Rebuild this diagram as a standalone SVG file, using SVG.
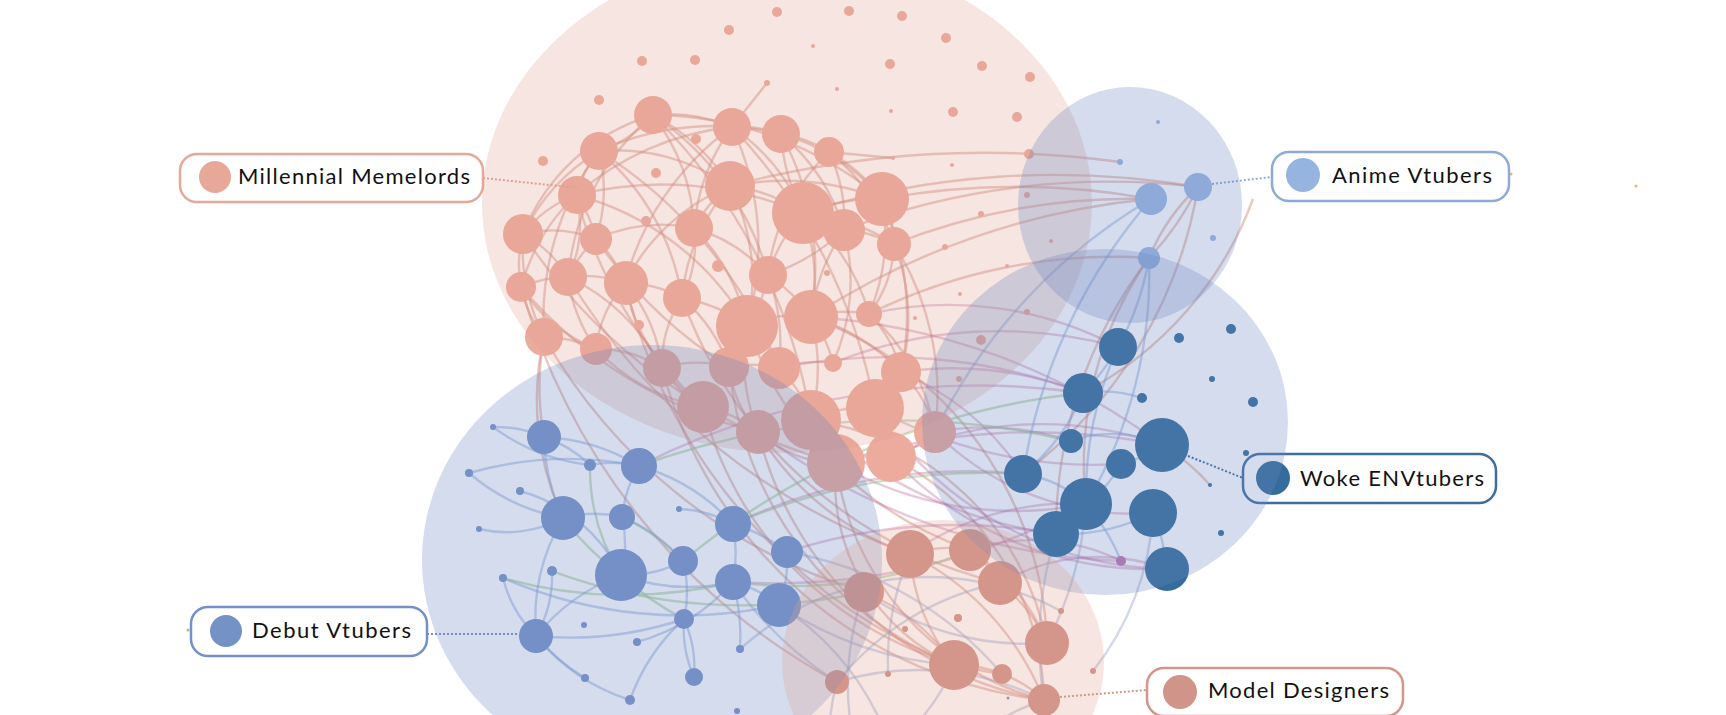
<svg xmlns="http://www.w3.org/2000/svg" width="1726" height="715" viewBox="0 0 1726 715">
<style>
.e path{fill:none;stroke-width:2.4}
.ep{stroke:#cf8478;stroke-opacity:.45}
.eb{stroke:#7f9fd6;stroke-opacity:.45}
.eu{stroke:#b9659a;stroke-opacity:.35}
.eg{stroke:#9cc78c;stroke-opacity:.55}
.es{stroke:#8fa3cc;stroke-opacity:.42}
.np{fill:#ecab9c}
.nm{fill:#d19388}
.nd{fill:#7794c8}
.nw{fill:#346d9b}
.na{fill:#9bb9e2}
.nu{fill:#bd78b0}
.hp{fill:#dc9f90;fill-opacity:.27}
.hb{fill:#6f86c0;fill-opacity:.29}
.box{fill:#fff;stroke-width:2.5}
.lbl{font-family:Lato,"Liberation Sans",sans-serif;font-size:22px;fill:#111}
.dot{fill:none;stroke-width:2;stroke-dasharray:2 2}
</style>
<rect width="1726" height="715" fill="#fff"/>
<g id="connectors" class="e">
<g class="ep">
<path d="M653 115 A200 200 0 0 0 523 234"/><path d="M653 115 A120 120 0 0 1 599 151"/><path d="M653 115 A160 160 0 0 1 732 127"/><path d="M653 115 A200 200 0 0 1 730 186"/><path d="M653 115 A240 240 0 0 0 568 277"/><path d="M653 115 A200 200 0 0 1 694 228"/><path d="M653 115 A280 280 0 0 1 768 275"/><path d="M653 115 A360 360 0 0 1 882 199"/>
<path d="M732 127 A120 120 0 0 1 781 134"/><path d="M732 127 A200 200 0 0 1 803 213"/><path d="M732 127 A280 280 0 0 0 576 195"/><path d="M732 127 A280 280 0 0 0 625 283"/><path d="M732 127 A280 280 0 0 1 747 325"/><path d="M732 127 A200 200 0 0 0 694 228"/><path d="M732 127 L767 83"/>
<path d="M781 134 A120 120 0 0 1 829 152"/><path d="M781 134 A200 200 0 0 1 882 199"/><path d="M781 134 A200 200 0 0 0 803 213"/><path d="M781 134 A200 200 0 0 1 844 230"/><path d="M781 134 A280 280 0 0 1 811 317"/><path d="M781 134 A280 280 0 0 0 599 151"/>
<path d="M829 152 A160 160 0 0 1 882 199"/><path d="M829 152 A200 200 0 0 1 894 244"/><path d="M829 152 A200 200 0 0 0 768 275"/><path d="M829 152 A160 160 0 0 1 844 230"/><path d="M829 152 L893 158"/>
<path d="M599 151 A120 120 0 0 0 576 195"/><path d="M599 151 A200 200 0 0 0 523 234"/><path d="M599 151 A160 160 0 0 1 596 239"/><path d="M599 151 A200 200 0 0 1 730 186"/><path d="M599 151 A240 240 0 0 1 682 298"/><path d="M599 151 A280 280 0 0 0 544 337"/>
<path d="M576 195 A120 120 0 0 0 523 234"/><path d="M576 195 A120 120 0 0 1 568 277"/><path d="M576 195 A120 120 0 0 1 596 239"/><path d="M576 195 A360 360 0 0 1 803 213"/><path d="M576 195 A200 200 0 0 0 521 287"/><path d="M576 195 A280 280 0 0 1 747 325"/>
<path d="M730 186 A160 160 0 0 1 803 213"/><path d="M730 186 A120 120 0 0 0 694 228"/><path d="M730 186 A200 200 0 0 0 625 283"/><path d="M730 186 A200 200 0 0 1 747 325"/><path d="M730 186 A280 280 0 0 1 882 199"/><path d="M730 186 A200 200 0 0 0 682 298"/>
<path d="M803 213 A120 120 0 0 1 844 230"/><path d="M803 213 A200 200 0 0 1 882 199"/><path d="M803 213 A160 160 0 0 0 768 275"/><path d="M803 213 A200 200 0 0 1 811 317"/><path d="M803 213 A200 200 0 0 1 869 314"/><path d="M803 213 A200 200 0 0 1 894 244"/>
<path d="M882 199 A120 120 0 0 1 894 244"/><path d="M882 199 A200 200 0 0 1 869 314"/><path d="M882 199 A280 280 0 0 1 901 372"/>
<path d="M844 230 A120 120 0 0 1 894 244"/><path d="M844 230 A200 200 0 0 0 811 317"/><path d="M844 230 A200 200 0 0 1 768 275"/><path d="M844 230 A200 200 0 0 1 833 363"/>
<path d="M894 244 A120 120 0 0 1 869 314"/><path d="M894 244 A200 200 0 0 1 901 372"/><path d="M894 244 A280 280 0 0 1 935 432"/>
<path d="M523 234 A120 120 0 0 0 521 287"/><path d="M523 234 A120 120 0 0 1 568 277"/><path d="M523 234 A200 200 0 0 0 544 337"/><path d="M523 234 A120 120 0 0 1 596 239"/>
<path d="M596 239 A120 120 0 0 0 568 277"/><path d="M596 239 A120 120 0 0 1 625 283"/><path d="M596 239 A160 160 0 0 1 694 228"/>
<path d="M694 228 A120 120 0 0 1 682 298"/><path d="M694 228 A160 160 0 0 1 768 275"/><path d="M694 228 A200 200 0 0 1 747 325"/>
<path d="M521 287 A120 120 0 0 1 568 277"/><path d="M521 287 A120 120 0 0 0 544 337"/><path d="M521 287 A160 160 0 0 0 596 349"/>
<path d="M568 277 A120 120 0 0 1 625 283"/><path d="M568 277 A160 160 0 0 0 596 349"/><path d="M568 277 A200 200 0 0 1 662 368"/>
<path d="M625 283 A120 120 0 0 1 682 298"/><path d="M625 283 A120 120 0 0 0 596 349"/><path d="M625 283 A160 160 0 0 1 662 368"/><path d="M625 283 A200 200 0 0 0 703 407"/>
<path d="M682 298 A160 160 0 0 1 747 325"/><path d="M682 298 A160 160 0 0 1 729 367"/><path d="M682 298 A120 120 0 0 0 662 368"/>
<path d="M768 275 A120 120 0 0 1 747 325"/><path d="M768 275 A160 160 0 0 1 811 317"/><path d="M768 275 A200 200 0 0 1 779 368"/>
<path d="M544 337 A120 120 0 0 1 596 349"/><path d="M544 337 A280 280 0 0 0 544 437"/><path d="M544 337 A280 280 0 0 0 563 518"/>
<path d="M596 349 A120 120 0 0 1 662 368"/><path d="M596 349 A200 200 0 0 0 703 407"/>
<path d="M747 325 A120 120 0 0 1 811 317"/><path d="M747 325 A120 120 0 0 1 729 367"/><path d="M747 325 A120 120 0 0 1 779 368"/><path d="M747 325 A200 200 0 0 0 758 432"/>
<path d="M811 317 A120 120 0 0 1 869 314"/><path d="M811 317 A200 200 0 0 1 811 420"/><path d="M811 317 A120 120 0 0 1 833 363"/><path d="M811 317 A200 200 0 0 1 901 372"/>
<path d="M869 314 A120 120 0 0 1 901 372"/><path d="M869 314 A200 200 0 0 1 935 432"/>
<path d="M662 368 A120 120 0 0 1 729 367"/><path d="M662 368 A120 120 0 0 0 703 407"/><path d="M729 367 A120 120 0 0 1 779 368"/><path d="M729 367 A120 120 0 0 0 758 432"/>
<path d="M779 368 A120 120 0 0 1 811 420"/><path d="M779 368 A120 120 0 0 1 833 363"/><path d="M901 372 A120 120 0 0 1 875 408"/><path d="M901 372 A120 120 0 0 1 935 432"/>
<path d="M703 407 A120 120 0 0 1 758 432"/><path d="M758 432 A120 120 0 0 0 836 463"/><path d="M811 420 A120 120 0 0 1 875 408"/><path d="M875 408 A120 120 0 0 1 891 457"/><path d="M836 463 A120 120 0 0 1 891 457"/><path d="M891 457 A120 120 0 0 0 935 432"/>
<path d="M523 234 A550 550 0 0 0 836 463"/><path d="M521 287 A450 450 0 0 0 758 432"/><path d="M576 195 A450 450 0 0 0 703 407"/><path d="M653 115 A550 550 0 0 1 811 420"/><path d="M599 151 A450 450 0 0 1 779 368"/><path d="M596 239 A450 450 0 0 0 729 367"/><path d="M732 127 A550 550 0 0 1 875 408"/>
<path d="M544 337 A550 550 0 0 0 864 592"/><path d="M521 287 A650 650 0 0 0 837 682"/><path d="M568 277 A650 650 0 0 0 910 554"/><path d="M625 283 A550 550 0 0 0 954 665"/><path d="M682 298 A450 450 0 0 0 1000 583"/><path d="M747 325 A360 360 0 0 0 970 550"/><path d="M811 317 A360 360 0 0 1 1047 643"/><path d="M729 367 A360 360 0 0 0 954 665"/><path d="M703 407 A360 360 0 0 0 1002 674"/><path d="M662 368 A450 450 0 0 0 1044 700"/><path d="M758 432 A280 280 0 0 0 910 554"/><path d="M836 463 A200 200 0 0 0 954 665"/><path d="M811 420 A280 280 0 0 1 1047 643"/>
<path d="M882 199 A750 750 0 0 1 1151 199"/><path d="M844 230 A750 750 0 0 1 1198 187"/><path d="M894 244 A650 650 0 0 1 1151 199"/><path d="M803 213 A850 850 0 0 1 1198 187"/><path d="M730 186 A1000 1000 0 0 1 1120 162"/><path d="M869 314 A550 550 0 0 1 1149 258"/><path d="M811 317 A750 750 0 0 1 1151 199"/>
<path d="M1149 258 A280 280 0 0 0 1198 187"/><path d="M1149 258 A200 200 0 0 1 1198 187"/><path d="M1253 199 A360 360 0 0 1 1083 393"/><path d="M1198 187 A450 450 0 0 1 1023 474"/><path d="M1149 258 A360 360 0 0 0 1086 504"/><path d="M1149 258 A450 450 0 0 0 1056 534"/><path d="M1162 445 A200 200 0 0 1 1210 485"/>
<path d="M910 554 A120 120 0 0 1 970 550"/><path d="M910 554 A200 200 0 0 0 954 665"/><path d="M970 550 A120 120 0 0 1 1000 583"/><path d="M970 550 A200 200 0 0 1 1047 643"/><path d="M1000 583 A160 160 0 0 1 1047 643"/><path d="M954 665 A120 120 0 0 1 1002 674"/><path d="M1002 674 A120 120 0 0 1 1044 700"/><path d="M864 592 A200 200 0 0 1 954 665"/><path d="M910 554 A280 280 0 0 1 1044 700"/><path d="M836 463 A280 280 0 0 0 1044 700"/><path d="M891 457 A280 280 0 0 1 1044 700"/><path d="M758 432 A360 360 0 0 0 1044 700"/>
</g>
<g class="eu">
<path d="M869 314 A360 360 0 0 1 1118 347"/><path d="M901 372 A360 360 0 0 1 1083 393"/><path d="M935 432 A280 280 0 0 1 1071 441"/><path d="M891 457 A360 360 0 0 1 1162 445"/><path d="M875 408 A450 450 0 0 0 1121 464"/><path d="M836 463 A360 360 0 0 0 1086 504"/><path d="M811 420 A450 450 0 0 0 1056 534"/><path d="M935 432 A280 280 0 0 0 1153 513"/><path d="M891 457 A360 360 0 0 0 1167 569"/><path d="M901 372 A280 280 0 0 1 1023 474"/><path d="M758 432 A650 650 0 0 0 1121 561"/><path d="M779 368 A550 550 0 0 1 1083 393"/><path d="M833 363 A450 450 0 0 1 1118 347"/><path d="M811 317 A650 650 0 0 1 1162 445"/><path d="M836 463 A650 650 0 0 1 1162 445"/><path d="M875 408 A360 360 0 0 0 1167 569"/><path d="M910 554 A280 280 0 0 1 1086 504"/><path d="M970 550 A200 200 0 0 1 1121 561"/><path d="M1000 583 A200 200 0 0 1 1167 569"/><path d="M733 524 A550 550 0 0 1 1023 474"/><path d="M787 552 A550 550 0 0 1 1056 534"/><path d="M639 466 A750 750 0 0 1 1083 393"/><path d="M733 582 A650 650 0 0 0 1086 504"/>
</g>
<g class="eg">
<path d="M563 518 A280 280 0 0 0 621 575"/><path d="M590 465 A200 200 0 0 0 621 575"/><path d="M503 578 A450 450 0 0 0 733 582"/><path d="M622 517 A200 200 0 0 1 683 561"/><path d="M621 575 A280 280 0 0 0 684 619"/><path d="M733 524 A650 650 0 0 1 1023 474"/><path d="M683 561 A750 750 0 0 1 1083 393"/><path d="M639 466 A750 750 0 0 1 1071 441"/><path d="M552 571 A550 550 0 0 0 864 592"/><path d="M733 582 A450 450 0 0 0 970 550"/>
</g>
<g class="eb">
<path d="M544 437 A120 120 0 0 0 493 427"/><path d="M544 437 A200 200 0 0 1 639 466"/><path d="M544 437 A120 120 0 0 1 590 465"/><path d="M544 437 A200 200 0 0 0 563 518"/><path d="M590 465 A120 120 0 0 1 639 466"/><path d="M493 427 A200 200 0 0 0 590 465"/><path d="M639 466 A200 200 0 0 1 733 524"/><path d="M639 466 A120 120 0 0 0 622 517"/><path d="M563 518 A120 120 0 0 1 622 517"/><path d="M563 518 A200 200 0 0 0 536 636"/><path d="M469 473 A200 200 0 0 0 563 518"/><path d="M479 529 A120 120 0 0 0 563 518"/><path d="M520 491 A160 160 0 0 1 621 575"/><path d="M622 517 A120 120 0 0 1 621 575"/><path d="M622 517 A160 160 0 0 1 683 561"/><path d="M733 524 A160 160 0 0 1 733 582"/><path d="M733 524 A160 160 0 0 1 787 552"/><path d="M683 561 A120 120 0 0 1 621 575"/><path d="M683 561 A120 120 0 0 1 684 619"/><path d="M621 575 A200 200 0 0 0 536 636"/><path d="M621 575 A200 200 0 0 0 733 582"/><path d="M733 582 A200 200 0 0 1 740 649"/><path d="M684 619 A120 120 0 0 1 694 677"/><path d="M684 619 A120 120 0 0 0 694 677"/><path d="M684 619 A200 200 0 0 0 630 700"/><path d="M536 636 A200 200 0 0 0 585 678"/><path d="M536 636 A200 200 0 0 0 630 700"/><path d="M536 636 A120 120 0 0 1 503 578"/><path d="M536 636 A120 120 0 0 0 552 571"/><path d="M779 605 A120 120 0 0 0 787 552"/><path d="M733 582 A120 120 0 0 1 779 605"/><path d="M679 509 A120 120 0 0 1 733 524"/><path d="M637 642 A200 200 0 0 0 733 582"/><path d="M469 473 A360 360 0 0 1 639 466"/><path d="M503 578 A450 450 0 0 0 779 605"/><path d="M536 636 A360 360 0 0 0 684 619"/>
<path d="M1118 347 A200 200 0 0 1 1083 393"/><path d="M1083 393 A200 200 0 0 1 1023 474"/><path d="M1071 441 A120 120 0 0 1 1162 445"/><path d="M1162 445 A120 120 0 0 1 1121 464"/><path d="M1121 464 A120 120 0 0 1 1086 504"/><path d="M1023 474 A120 120 0 0 1 1086 504"/><path d="M1086 504 A120 120 0 0 1 1056 534"/><path d="M1056 534 A200 200 0 0 0 1153 513"/><path d="M1153 513 A200 200 0 0 1 1167 569"/><path d="M1086 504 A200 200 0 0 1 1121 561"/><path d="M1149 258 A280 280 0 0 1 1118 347"/><path d="M1151 199 A550 550 0 0 0 1023 474"/><path d="M1149 258 A450 450 0 0 1 1086 504"/><path d="M1083 393 A120 120 0 0 1 1142 398"/><path d="M1118 347 A360 360 0 0 0 1086 504"/><path d="M1151 199 A550 550 0 0 0 935 432"/>
</g>
<g class="es">
<path d="M779 605 A360 360 0 0 0 954 665"/><path d="M837 682 A280 280 0 0 1 1000 583"/><path d="M864 592 A280 280 0 0 0 1047 643"/><path d="M787 552 A360 360 0 0 1 1002 674"/><path d="M733 582 A360 360 0 0 0 837 682"/><path d="M837 682 A280 280 0 0 1 1044 700"/><path d="M910 554 A280 280 0 0 0 888 674"/><path d="M740 649 A280 280 0 0 1 1061 611"/><path d="M1153 513 A280 280 0 0 1 1093 671"/><path d="M1086 504 A360 360 0 0 1 1047 643"/><path d="M1056 534 A360 360 0 0 0 1044 700"/><path d="M837 682 A200 200 0 0 0 830 720"/><path d="M954 665 A200 200 0 0 1 920 720"/><path d="M1044 700 A200 200 0 0 0 1000 720"/><path d="M864 592 A280 280 0 0 0 850 720"/><path d="M779 605 A280 280 0 0 1 880 720"/>
</g>
</g>
<g id="nodes-memelords">
<g class="np">
<circle cx="777" cy="12" r="5"/><circle cx="849" cy="11" r="5"/><circle cx="902" cy="16" r="5"/><circle cx="729" cy="30" r="5"/><circle cx="946" cy="38" r="5"/><circle cx="813" cy="46" r="2"/><circle cx="642" cy="61" r="5"/><circle cx="695" cy="60" r="5"/><circle cx="890" cy="64" r="5"/><circle cx="982" cy="66" r="5"/><circle cx="1030" cy="77" r="5"/><circle cx="767" cy="83" r="3"/><circle cx="837" cy="89" r="2"/><circle cx="599" cy="100" r="5"/><circle cx="891" cy="111" r="2"/><circle cx="953" cy="112" r="5"/><circle cx="1017" cy="117" r="5"/><circle cx="543" cy="161" r="5"/><circle cx="893" cy="158" r="2"/><circle cx="952" cy="165" r="2"/><circle cx="1029" cy="154" r="5"/><circle cx="1027" cy="195" r="3"/><circle cx="981" cy="214" r="3"/><circle cx="945" cy="247" r="3"/><circle cx="1051" cy="241" r="2"/><circle cx="1007" cy="266" r="2"/><circle cx="960" cy="294" r="2"/><circle cx="915" cy="318" r="2"/><circle cx="1027" cy="312" r="3"/><circle cx="981" cy="340" r="5"/><circle cx="959" cy="379" r="3"/><circle cx="696" cy="139" r="5"/><circle cx="656" cy="173" r="5"/><circle cx="646" cy="221" r="5"/><circle cx="718" cy="266" r="6"/><circle cx="827" cy="273" r="3"/><circle cx="639" cy="325" r="5"/>
<circle cx="653" cy="115" r="19"/><circle cx="732" cy="127" r="19"/><circle cx="781" cy="134" r="19"/><circle cx="829" cy="152" r="15"/><circle cx="599" cy="151" r="19"/><circle cx="577" cy="195" r="19"/><circle cx="730" cy="186" r="25"/><circle cx="803" cy="213" r="31"/><circle cx="882" cy="199" r="27"/><circle cx="844" cy="230" r="21"/><circle cx="894" cy="244" r="17"/><circle cx="523" cy="234" r="20"/><circle cx="596" cy="239" r="16"/><circle cx="694" cy="228" r="19"/><circle cx="521" cy="287" r="15"/><circle cx="568" cy="277" r="19"/><circle cx="626" cy="283" r="22"/><circle cx="682" cy="298" r="19"/><circle cx="768" cy="275" r="19"/><circle cx="544" cy="337" r="19"/><circle cx="596" cy="349" r="16"/><circle cx="747" cy="326" r="31"/><circle cx="811" cy="317" r="27"/><circle cx="869" cy="314" r="13"/><circle cx="662" cy="368" r="19"/><circle cx="729" cy="367" r="20"/><circle cx="779" cy="368" r="21"/><circle cx="833" cy="363" r="9"/><circle cx="901" cy="372" r="20"/><circle cx="703" cy="407" r="26"/><circle cx="758" cy="432" r="22"/><circle cx="811" cy="420" r="30"/><circle cx="875" cy="408" r="29"/><circle cx="836" cy="463" r="29"/><circle cx="891" cy="457" r="25"/><circle cx="935" cy="432" r="21"/>
</g>
</g>
<g id="nodes-model">
<g class="nm">
<circle cx="910" cy="554" r="24"/><circle cx="970" cy="550" r="21"/><circle cx="1000" cy="583" r="22"/><circle cx="864" cy="592" r="20"/><circle cx="954" cy="665" r="25"/><circle cx="1047" cy="643" r="22"/><circle cx="1002" cy="674" r="10"/><circle cx="837" cy="682" r="12"/><circle cx="1044" cy="700" r="16"/><circle cx="958" cy="618" r="4"/><circle cx="905" cy="629" r="3"/><circle cx="888" cy="674" r="3"/><circle cx="1061" cy="611" r="3"/><circle cx="1093" cy="671" r="3"/>
</g>
</g>
<g id="nodes-debut">
<g class="nd">
<circle cx="544" cy="437" r="17"/><circle cx="639" cy="466" r="18"/><circle cx="563" cy="518" r="22"/><circle cx="622" cy="517" r="13"/><circle cx="733" cy="524" r="18"/><circle cx="787" cy="552" r="16"/><circle cx="683" cy="561" r="15"/><circle cx="621" cy="575" r="26"/><circle cx="733" cy="582" r="18"/><circle cx="779" cy="605" r="22"/><circle cx="684" cy="619" r="10"/><circle cx="536" cy="636" r="17"/><circle cx="694" cy="677" r="9"/><circle cx="630" cy="700" r="5"/>
<circle cx="493" cy="427" r="3"/><circle cx="590" cy="465" r="6"/><circle cx="469" cy="473" r="4"/><circle cx="520" cy="491" r="4"/><circle cx="479" cy="529" r="3"/><circle cx="679" cy="509" r="3"/><circle cx="552" cy="571" r="5"/><circle cx="503" cy="578" r="4"/><circle cx="584" cy="625" r="3"/><circle cx="637" cy="642" r="4"/><circle cx="740" cy="649" r="4"/><circle cx="585" cy="678" r="4"/><circle cx="737" cy="711" r="3"/><circle cx="1008" cy="698" r="1.5"/>
</g>
</g>
<g id="nodes-woke">
<g class="nw">
<circle cx="1118" cy="347" r="19"/><circle cx="1083" cy="393" r="20"/><circle cx="1071" cy="441" r="12"/><circle cx="1162" cy="445" r="27"/><circle cx="1121" cy="464" r="15"/><circle cx="1023" cy="474" r="19"/><circle cx="1086" cy="504" r="26"/><circle cx="1056" cy="534" r="23"/><circle cx="1153" cy="513" r="24"/><circle cx="1167" cy="569" r="22"/>
<circle cx="1179" cy="338" r="5"/><circle cx="1231" cy="329" r="5"/><circle cx="1142" cy="398" r="5"/><circle cx="1212" cy="379" r="3"/><circle cx="1253" cy="402" r="5"/><circle cx="1246" cy="453" r="3"/><circle cx="1210" cy="485" r="2"/><circle cx="1221" cy="533" r="3"/>
</g>
<circle class="nu" cx="1121" cy="561" r="5"/>
</g>
<g id="nodes-anime">
<g class="na">
<circle cx="1151" cy="199" r="16"/><circle cx="1198" cy="187" r="14"/><circle cx="1149" cy="258" r="11"/><circle cx="1158" cy="122" r="2"/><circle cx="1120" cy="162" r="3"/><circle cx="1213" cy="238" r="3"/>
</g>
</g>
<g id="stray-dots">
<circle cx="1511" cy="174" r="1.5" fill="#e9b36a"/><circle cx="1636" cy="186" r="1.5" fill="#e9b36a"/><circle cx="188" cy="630" r="1.5" fill="#9cc78c"/>
</g>
<g id="label-memelords">
<path class="dot" stroke="#e2a090" d="M483 178 L579 188"/>
<rect class="box" stroke="#e8a899" x="180" y="154" width="303" height="48" rx="17"/>
<circle cx="215" cy="177" r="16" fill="#e8a899"/>
<text class="lbl" x="238" y="184" textLength="232" lengthAdjust="spacing">Millennial Memelords</text>
</g>
<g id="label-anime">
<path class="dot" stroke="#8eaad8" d="M1212 184 L1272 177"/>
<rect class="box" stroke="#8eaad8" x="1272" y="152" width="237" height="49" rx="17"/>
<circle cx="1303" cy="175" r="17" fill="#95b4e0"/>
<text class="lbl" x="1332" y="183" textLength="160" lengthAdjust="spacing">Anime Vtubers</text>
</g>
<g id="label-woke">
<path class="dot" stroke="#3e6e9f" d="M1188 456 L1243 478"/>
<rect class="box" stroke="#3e6e9f" x="1243" y="454" width="253" height="49" rx="17"/>
<circle cx="1273" cy="478" r="17" fill="#346d9b"/>
<text class="lbl" x="1300" y="486" textLength="184" lengthAdjust="spacing">Woke ENVtubers</text>
</g>
<g id="label-debut">
<path class="dot" stroke="#7590c6" d="M427 634 L519 634"/>
<rect class="box" stroke="#7590c6" x="191" y="607" width="236" height="49" rx="17"/>
<circle cx="226" cy="631" r="16" fill="#7592c7"/>
<text class="lbl" x="252" y="638" textLength="159" lengthAdjust="spacing">Debut Vtubers</text>
</g>
<g id="label-model">
<path class="dot" stroke="#d4958a" d="M1060 697 L1147 690"/>
<rect class="box" stroke="#d4958a" x="1147" y="668" width="256" height="48" rx="17"/>
<circle cx="1180" cy="692" r="17" fill="#d09488"/>
<text class="lbl" x="1208" y="698" textLength="181" lengthAdjust="spacing">Model Designers</text>
</g>
<g id="hulls">
<ellipse class="hp" cx="787" cy="203" rx="305" ry="250"/>
<ellipse class="hb" cx="1130" cy="205" rx="112" ry="118"/>
<ellipse class="hb" cx="1105" cy="422" rx="183" ry="173"/>
<ellipse class="hb" cx="652" cy="560" rx="230" ry="215"/>
<ellipse class="hp" cx="943" cy="662" rx="161" ry="142"/>
</g>
</svg>
